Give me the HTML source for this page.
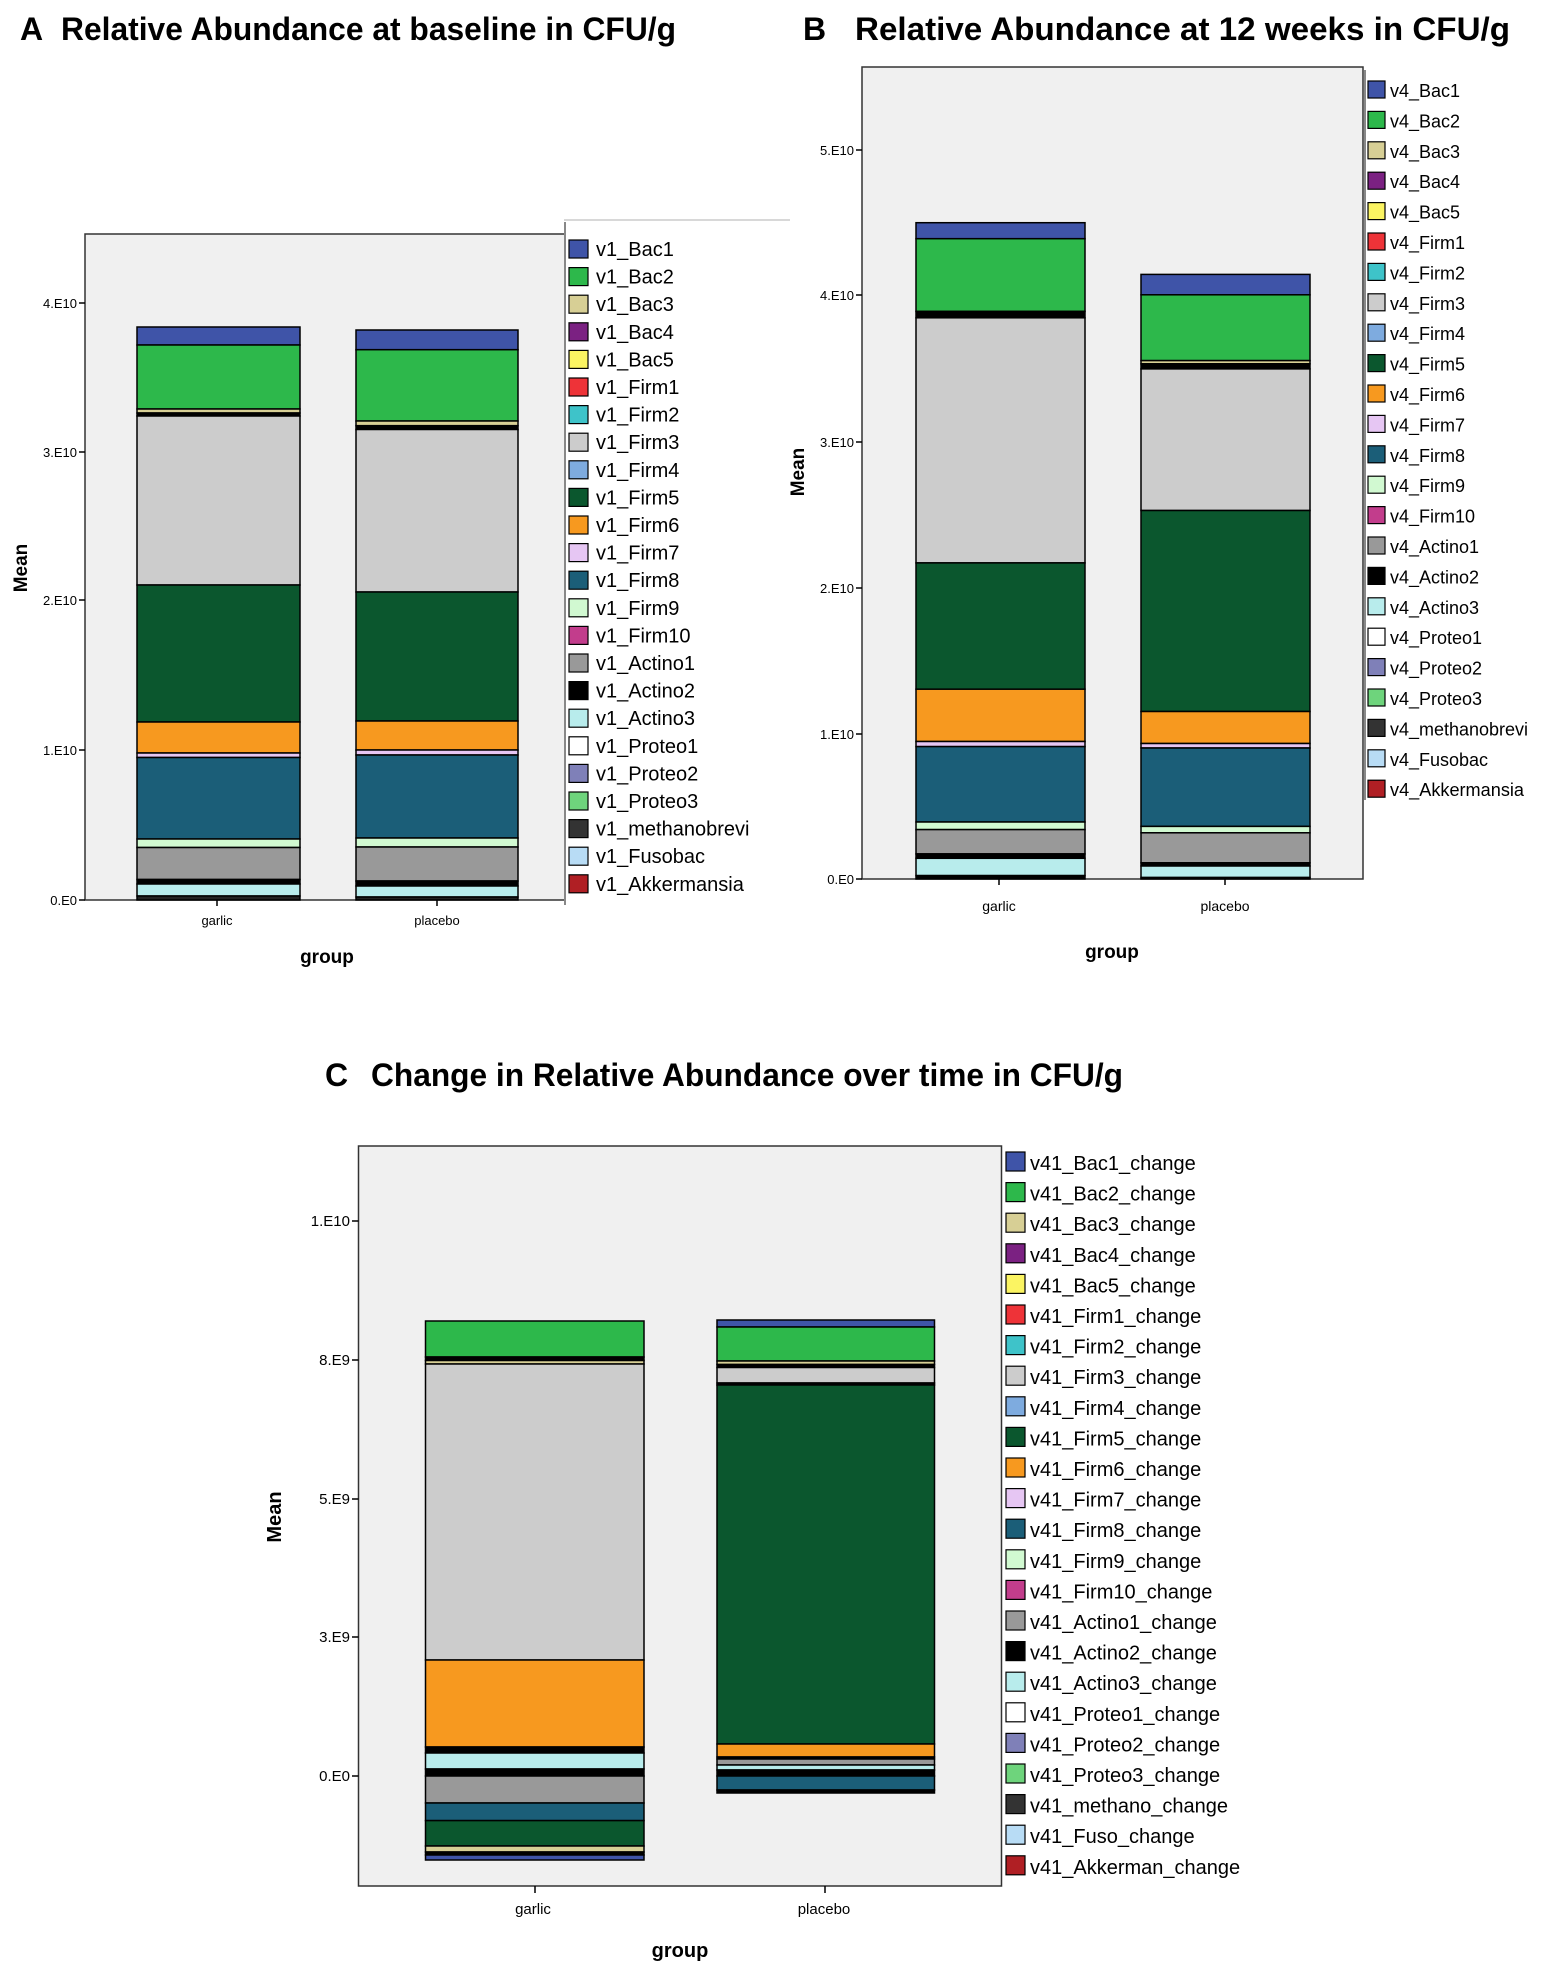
<!DOCTYPE html>
<html><head><meta charset="utf-8"><style>
html,body{margin:0;padding:0;background:#fff}
svg{display:block}
text{font-family:"Liberation Sans",Arial,sans-serif}
</style></head><body>
<svg width="1547" height="1975" viewBox="0 0 1547 1975" xmlns="http://www.w3.org/2000/svg">
<!-- Titles -->
<text x="20" y="40" font-size="32" font-weight="bold">A</text>
<text x="61" y="40" font-size="32" font-weight="bold" textLength="615" lengthAdjust="spacingAndGlyphs">Relative Abundance at baseline in CFU/g</text>
<text x="803" y="40" font-size="32" font-weight="bold">B</text>
<text x="855" y="40" font-size="32" font-weight="bold" textLength="655" lengthAdjust="spacingAndGlyphs">Relative Abundance at 12 weeks in CFU/g</text>
<text x="325" y="1086" font-size="32" font-weight="bold">C</text>
<text x="371" y="1086" font-size="32" font-weight="bold" textLength="752" lengthAdjust="spacingAndGlyphs">Change in Relative Abundance over time in CFU/g</text>

<!-- Panel A -->
<line x1="564" y1="220" x2="790" y2="220" stroke="#ccc" stroke-width="1.5"/>
<rect x="85" y="234" width="480" height="666" fill="#f0f0f0" stroke="#333" stroke-width="1.5"/>
<line x1="565" y1="222" x2="565" y2="905" stroke="#888" stroke-width="2"/>
<g stroke="#000" stroke-width="1.5">
<line x1="79" y1="303" x2="85" y2="303"/><line x1="79" y1="452" x2="85" y2="452"/><line x1="79" y1="600" x2="85" y2="600"/><line x1="79" y1="750" x2="85" y2="750"/><line x1="79" y1="900" x2="85" y2="900"/>
</g>
<g font-size="13" text-anchor="end">
<text x="77" y="308">4.E10</text><text x="77" y="457">3.E10</text><text x="77" y="605">2.E10</text><text x="77" y="755">1.E10</text><text x="77" y="905">0.E0</text>
</g>
<g stroke="#000" stroke-width="1.5">
<rect x="137" y="327" width="163" height="18" fill="#3f54a8"/>
<rect x="137" y="345" width="163" height="64" fill="#2db84b"/>
<rect x="137" y="409" width="163" height="4" fill="#d7cf95"/>
<rect x="137" y="413" width="163" height="3" fill="#000"/>
<rect x="137" y="416" width="163" height="169" fill="#cccccc"/>
<rect x="137" y="585" width="163" height="137" fill="#0b572e"/>
<rect x="137" y="722" width="163" height="31" fill="#f7991f"/>
<rect x="137" y="753" width="163" height="4.5" fill="#e6c6f3"/>
<rect x="137" y="757.5" width="163" height="81.5" fill="#1b5e78"/>
<rect x="137" y="839" width="163" height="8.5" fill="#d1f9d1"/>
<rect x="137" y="847.5" width="163" height="32" fill="#999999"/>
<rect x="137" y="879.5" width="163" height="4.5" fill="#000"/>
<rect x="137" y="884" width="163" height="12" fill="#b8ecec"/>
<rect x="137" y="896" width="163" height="4" fill="#222"/>

<rect x="356" y="330" width="162" height="19.7" fill="#3f54a8"/>
<rect x="356" y="349.7" width="162" height="71.3" fill="#2db84b"/>
<rect x="356" y="421" width="162" height="4.7" fill="#d7cf95"/>
<rect x="356" y="425.7" width="162" height="3.8" fill="#000"/>
<rect x="356" y="429.5" width="162" height="162.5" fill="#cccccc"/>
<rect x="356" y="592" width="162" height="129" fill="#0b572e"/>
<rect x="356" y="721" width="162" height="29" fill="#f7991f"/>
<rect x="356" y="750" width="162" height="5" fill="#e6c6f3"/>
<rect x="356" y="755" width="162" height="83" fill="#1b5e78"/>
<rect x="356" y="838" width="162" height="9" fill="#d1f9d1"/>
<rect x="356" y="847" width="162" height="34" fill="#999999"/>
<rect x="356" y="881" width="162" height="5" fill="#000"/>
<rect x="356" y="886" width="162" height="11" fill="#b8ecec"/>
<rect x="356" y="897" width="162" height="3" fill="#222"/>
</g>
<g stroke="#000" stroke-width="1.5"><line x1="217" y1="900" x2="217" y2="906"/><line x1="437" y1="900" x2="437" y2="906"/></g>
<text x="217" y="925" font-size="13" text-anchor="middle">garlic</text>
<text x="437" y="925" font-size="13" text-anchor="middle">placebo</text>
<text x="327" y="963" font-size="19" font-weight="bold" text-anchor="middle">group</text>
<text transform="translate(27,568) rotate(-90)" font-size="19" font-weight="bold" text-anchor="middle">Mean</text>

<!-- Legend A -->
<g font-size="20" stroke-width="1.2">
<g transform="translate(569,240)">
<g transform="translate(0,0)"><rect width="19" height="18" fill="#3f54a8" stroke="#000"/><text x="27" y="16">v1_Bac1</text></g>
<g transform="translate(0,27.6)"><rect width="19" height="18" fill="#2db84b" stroke="#000"/><text x="27" y="16">v1_Bac2</text></g>
<g transform="translate(0,55.2)"><rect width="19" height="18" fill="#d7cf95" stroke="#000"/><text x="27" y="16">v1_Bac3</text></g>
<g transform="translate(0,82.8)"><rect width="19" height="18" fill="#7b2182" stroke="#000"/><text x="27" y="16">v1_Bac4</text></g>
<g transform="translate(0,110.4)"><rect width="19" height="18" fill="#fbf462" stroke="#000"/><text x="27" y="16">v1_Bac5</text></g>
<g transform="translate(0,138)"><rect width="19" height="18" fill="#ee3338" stroke="#000"/><text x="27" y="16">v1_Firm1</text></g>
<g transform="translate(0,165.6)"><rect width="19" height="18" fill="#3ec3c9" stroke="#000"/><text x="27" y="16">v1_Firm2</text></g>
<g transform="translate(0,193.2)"><rect width="19" height="18" fill="#cccccc" stroke="#000"/><text x="27" y="16">v1_Firm3</text></g>
<g transform="translate(0,220.8)"><rect width="19" height="18" fill="#7eabdf" stroke="#000"/><text x="27" y="16">v1_Firm4</text></g>
<g transform="translate(0,248.4)"><rect width="19" height="18" fill="#0b572e" stroke="#000"/><text x="27" y="16">v1_Firm5</text></g>
<g transform="translate(0,276)"><rect width="19" height="18" fill="#f7991f" stroke="#000"/><text x="27" y="16">v1_Firm6</text></g>
<g transform="translate(0,303.6)"><rect width="19" height="18" fill="#e6c6f3" stroke="#000"/><text x="27" y="16">v1_Firm7</text></g>
<g transform="translate(0,331.2)"><rect width="19" height="18" fill="#1b5e78" stroke="#000"/><text x="27" y="16">v1_Firm8</text></g>
<g transform="translate(0,358.8)"><rect width="19" height="18" fill="#d1f9d1" stroke="#000"/><text x="27" y="16">v1_Firm9</text></g>
<g transform="translate(0,386.4)"><rect width="19" height="18" fill="#c23d8c" stroke="#000"/><text x="27" y="16">v1_Firm10</text></g>
<g transform="translate(0,414)"><rect width="19" height="18" fill="#999999" stroke="#000"/><text x="27" y="16">v1_Actino1</text></g>
<g transform="translate(0,441.6)"><rect width="19" height="18" fill="#000" stroke="#000"/><text x="27" y="16">v1_Actino2</text></g>
<g transform="translate(0,469.2)"><rect width="19" height="18" fill="#b8ecec" stroke="#000"/><text x="27" y="16">v1_Actino3</text></g>
<g transform="translate(0,496.8)"><rect width="19" height="18" fill="#fff" stroke="#000"/><text x="27" y="16">v1_Proteo1</text></g>
<g transform="translate(0,524.4)"><rect width="19" height="18" fill="#7f80b8" stroke="#000"/><text x="27" y="16">v1_Proteo2</text></g>
<g transform="translate(0,552)"><rect width="19" height="18" fill="#6ed47c" stroke="#000"/><text x="27" y="16">v1_Proteo3</text></g>
<g transform="translate(0,579.6)"><rect width="19" height="18" fill="#333" stroke="#000"/><text x="27" y="16">v1_methanobrevi</text></g>
<g transform="translate(0,607.2)"><rect width="19" height="18" fill="#b8dcf5" stroke="#000"/><text x="27" y="16">v1_Fusobac</text></g>
<g transform="translate(0,634.8)"><rect width="19" height="18" fill="#b01f24" stroke="#000"/><text x="27" y="16">v1_Akkermansia</text></g>
</g></g>

<!-- Panel B -->
<rect x="862" y="67" width="501" height="812" fill="#f0f0f0" stroke="#333" stroke-width="1.5"/>
<line x1="1365" y1="70" x2="1365" y2="800" stroke="#888" stroke-width="2"/>
<g stroke="#000" stroke-width="1.5">
<line x1="856" y1="150" x2="862" y2="150"/><line x1="856" y1="295" x2="862" y2="295"/><line x1="856" y1="442" x2="862" y2="442"/><line x1="856" y1="588" x2="862" y2="588"/><line x1="856" y1="734" x2="862" y2="734"/><line x1="856" y1="879" x2="862" y2="879"/>
</g>
<g font-size="13" text-anchor="end">
<text x="854" y="155">5.E10</text><text x="854" y="300">4.E10</text><text x="854" y="447">3.E10</text><text x="854" y="593">2.E10</text><text x="854" y="739">1.E10</text><text x="854" y="884">0.E0</text>
</g>
<g stroke="#000" stroke-width="1.5">
<rect x="916" y="222.7" width="169" height="16" fill="#3f54a8"/>
<rect x="916" y="238.7" width="169" height="72.7" fill="#2db84b"/>
<rect x="916" y="311.4" width="169" height="6.4" fill="#000"/>
<rect x="916" y="317.8" width="169" height="245.1" fill="#cccccc"/>
<rect x="916" y="562.9" width="169" height="126.3" fill="#0b572e"/>
<rect x="916" y="689.2" width="169" height="52.3" fill="#f7991f"/>
<rect x="916" y="741.5" width="169" height="5.1" fill="#e6c6f3"/>
<rect x="916" y="746.6" width="169" height="75.4" fill="#1b5e78"/>
<rect x="916" y="822" width="169" height="7.6" fill="#d1f9d1"/>
<rect x="916" y="829.6" width="169" height="24.3" fill="#999999"/>
<rect x="916" y="853.9" width="169" height="4.4" fill="#000"/>
<rect x="916" y="858.3" width="169" height="17.3" fill="#b8ecec"/>
<rect x="916" y="875.6" width="169" height="3.4" fill="#000"/>

<rect x="1141" y="274.4" width="169" height="20.4" fill="#3f54a8"/>
<rect x="1141" y="294.8" width="169" height="65.8" fill="#2db84b"/>
<rect x="1141" y="360.6" width="169" height="3.2" fill="#d7cf95"/>
<rect x="1141" y="363.8" width="169" height="5.1" fill="#000"/>
<rect x="1141" y="368.9" width="169" height="141.6" fill="#cccccc"/>
<rect x="1141" y="510.5" width="169" height="201" fill="#0b572e"/>
<rect x="1141" y="711.5" width="169" height="32" fill="#f7991f"/>
<rect x="1141" y="743.5" width="169" height="4.5" fill="#e6c6f3"/>
<rect x="1141" y="748" width="169" height="78.4" fill="#1b5e78"/>
<rect x="1141" y="826.4" width="169" height="6.4" fill="#d1f9d1"/>
<rect x="1141" y="832.8" width="169" height="30" fill="#999999"/>
<rect x="1141" y="862.8" width="169" height="3.2" fill="#000"/>
<rect x="1141" y="866" width="169" height="11.5" fill="#b8ecec"/>
<rect x="1141" y="877.5" width="169" height="1.5" fill="#000"/>
</g>
<g stroke="#000" stroke-width="1.5"><line x1="999" y1="879" x2="999" y2="885"/><line x1="1225" y1="879" x2="1225" y2="885"/></g>
<text x="999" y="911" font-size="14" text-anchor="middle">garlic</text>
<text x="1225" y="911" font-size="14" text-anchor="middle">placebo</text>
<text x="1112" y="958" font-size="19" font-weight="bold" text-anchor="middle">group</text>
<text transform="translate(804,472) rotate(-90)" font-size="19" font-weight="bold" text-anchor="middle">Mean</text>

<!-- Legend B -->
<g font-size="18" stroke-width="1.2">
<g transform="translate(1368,81)">
<g transform="translate(0,0)"><rect width="17" height="17" fill="#3f54a8" stroke="#000"/><text x="22" y="16">v4_Bac1</text></g>
<g transform="translate(0,30.4)"><rect width="17" height="17" fill="#2db84b" stroke="#000"/><text x="22" y="16">v4_Bac2</text></g>
<g transform="translate(0,60.8)"><rect width="17" height="17" fill="#d7cf95" stroke="#000"/><text x="22" y="16">v4_Bac3</text></g>
<g transform="translate(0,91.2)"><rect width="17" height="17" fill="#7b2182" stroke="#000"/><text x="22" y="16">v4_Bac4</text></g>
<g transform="translate(0,121.6)"><rect width="17" height="17" fill="#fbf462" stroke="#000"/><text x="22" y="16">v4_Bac5</text></g>
<g transform="translate(0,152)"><rect width="17" height="17" fill="#ee3338" stroke="#000"/><text x="22" y="16">v4_Firm1</text></g>
<g transform="translate(0,182.4)"><rect width="17" height="17" fill="#3ec3c9" stroke="#000"/><text x="22" y="16">v4_Firm2</text></g>
<g transform="translate(0,212.8)"><rect width="17" height="17" fill="#cccccc" stroke="#000"/><text x="22" y="16">v4_Firm3</text></g>
<g transform="translate(0,243.2)"><rect width="17" height="17" fill="#7eabdf" stroke="#000"/><text x="22" y="16">v4_Firm4</text></g>
<g transform="translate(0,273.6)"><rect width="17" height="17" fill="#0b572e" stroke="#000"/><text x="22" y="16">v4_Firm5</text></g>
<g transform="translate(0,304)"><rect width="17" height="17" fill="#f7991f" stroke="#000"/><text x="22" y="16">v4_Firm6</text></g>
<g transform="translate(0,334.4)"><rect width="17" height="17" fill="#e6c6f3" stroke="#000"/><text x="22" y="16">v4_Firm7</text></g>
<g transform="translate(0,364.8)"><rect width="17" height="17" fill="#1b5e78" stroke="#000"/><text x="22" y="16">v4_Firm8</text></g>
<g transform="translate(0,395.2)"><rect width="17" height="17" fill="#d1f9d1" stroke="#000"/><text x="22" y="16">v4_Firm9</text></g>
<g transform="translate(0,425.6)"><rect width="17" height="17" fill="#c23d8c" stroke="#000"/><text x="22" y="16">v4_Firm10</text></g>
<g transform="translate(0,456)"><rect width="17" height="17" fill="#999999" stroke="#000"/><text x="22" y="16">v4_Actino1</text></g>
<g transform="translate(0,486.4)"><rect width="17" height="17" fill="#000" stroke="#000"/><text x="22" y="16">v4_Actino2</text></g>
<g transform="translate(0,516.8)"><rect width="17" height="17" fill="#b8ecec" stroke="#000"/><text x="22" y="16">v4_Actino3</text></g>
<g transform="translate(0,547.2)"><rect width="17" height="17" fill="#fff" stroke="#000"/><text x="22" y="16">v4_Proteo1</text></g>
<g transform="translate(0,577.6)"><rect width="17" height="17" fill="#7f80b8" stroke="#000"/><text x="22" y="16">v4_Proteo2</text></g>
<g transform="translate(0,608)"><rect width="17" height="17" fill="#6ed47c" stroke="#000"/><text x="22" y="16">v4_Proteo3</text></g>
<g transform="translate(0,638.4)"><rect width="17" height="17" fill="#333" stroke="#000"/><text x="22" y="16" textLength="138" lengthAdjust="spacingAndGlyphs">v4_methanobrevi</text></g>
<g transform="translate(0,668.8)"><rect width="17" height="17" fill="#b8dcf5" stroke="#000"/><text x="22" y="16">v4_Fusobac</text></g>
<g transform="translate(0,699.2)"><rect width="17" height="17" fill="#b01f24" stroke="#000"/><text x="22" y="16" textLength="134" lengthAdjust="spacingAndGlyphs">v4_Akkermansia</text></g>
</g></g>

<!-- Panel C -->
<rect x="358.5" y="1146" width="643" height="740" fill="#f0f0f0" stroke="#333" stroke-width="1.5"/>
<g stroke="#000" stroke-width="1.5">
<line x1="352" y1="1221" x2="358.5" y2="1221"/><line x1="352" y1="1360" x2="358.5" y2="1360"/><line x1="352" y1="1499" x2="358.5" y2="1499"/><line x1="352" y1="1637" x2="358.5" y2="1637"/><line x1="352" y1="1776" x2="358.5" y2="1776"/>
</g>
<g font-size="15" text-anchor="end">
<text x="350" y="1226">1.E10</text><text x="350" y="1365">8.E9</text><text x="350" y="1504">5.E9</text><text x="350" y="1642">3.E9</text><text x="350" y="1781">0.E0</text>
</g>
<g stroke="#000" stroke-width="1.5">
<rect x="425.5" y="1321" width="218.5" height="36" fill="#2db84b"/>
<rect x="425.5" y="1357" width="218.5" height="3.5" fill="#000"/>
<rect x="425.5" y="1360.5" width="218.5" height="3.5" fill="#d7cf95"/>
<rect x="425.5" y="1364" width="218.5" height="296" fill="#cccccc"/>
<rect x="425.5" y="1660" width="218.5" height="87" fill="#f7991f"/>
<rect x="425.5" y="1747" width="218.5" height="6" fill="#000"/>
<rect x="425.5" y="1753" width="218.5" height="16" fill="#b8ecec"/>
<rect x="425.5" y="1769" width="218.5" height="7" fill="#000"/>
<rect x="425.5" y="1776" width="218.5" height="27" fill="#999999"/>
<rect x="425.5" y="1803" width="218.5" height="17.6" fill="#1b5e78"/>
<rect x="425.5" y="1820.6" width="218.5" height="25.4" fill="#0b572e"/>
<rect x="425.5" y="1846" width="218.5" height="6" fill="#d7cf95"/>
<rect x="425.5" y="1852" width="218.5" height="3" fill="#000"/>
<rect x="425.5" y="1855" width="218.5" height="5" fill="#3f54a8"/>

<rect x="717" y="1320" width="217.5" height="7" fill="#3f54a8"/>
<rect x="717" y="1327" width="217.5" height="34" fill="#2db84b"/>
<rect x="717" y="1361" width="217.5" height="3.5" fill="#d7cf95"/>
<rect x="717" y="1364.5" width="217.5" height="3" fill="#000"/>
<rect x="717" y="1367.5" width="217.5" height="15.5" fill="#cccccc"/>
<rect x="717" y="1383" width="217.5" height="2" fill="#000"/>
<rect x="717" y="1385" width="217.5" height="359" fill="#0b572e"/>
<rect x="717" y="1744" width="217.5" height="13" fill="#f7991f"/>
<rect x="717" y="1757" width="217.5" height="2" fill="#000"/>
<rect x="717" y="1759" width="217.5" height="6" fill="#999999"/>
<rect x="717" y="1765" width="217.5" height="5" fill="#b8ecec"/>
<rect x="717" y="1770" width="217.5" height="6" fill="#000"/>
<rect x="717" y="1776" width="217.5" height="14" fill="#1b5e78"/>
<rect x="717" y="1790" width="217.5" height="3" fill="#000"/>
</g>
<g stroke="#000" stroke-width="1.5"><line x1="535" y1="1886" x2="535" y2="1893"/><line x1="825" y1="1886" x2="825" y2="1893"/></g>
<text x="533" y="1914" font-size="15" text-anchor="middle">garlic</text>
<text x="824" y="1914" font-size="15" text-anchor="middle">placebo</text>
<text x="680" y="1957" font-size="20" font-weight="bold" text-anchor="middle">group</text>
<text transform="translate(281,1517) rotate(-90)" font-size="20" font-weight="bold" text-anchor="middle">Mean</text>

<!-- Legend C -->
<g font-size="20" stroke-width="1.2">
<g transform="translate(1006,1152)">
<g transform="translate(0,0)"><rect width="19" height="19" fill="#3f54a8" stroke="#000"/><text x="24" y="18">v41_Bac1_change</text></g>
<g transform="translate(0,30.6)"><rect width="19" height="19" fill="#2db84b" stroke="#000"/><text x="24" y="18">v41_Bac2_change</text></g>
<g transform="translate(0,61.2)"><rect width="19" height="19" fill="#d7cf95" stroke="#000"/><text x="24" y="18">v41_Bac3_change</text></g>
<g transform="translate(0,91.8)"><rect width="19" height="19" fill="#7b2182" stroke="#000"/><text x="24" y="18">v41_Bac4_change</text></g>
<g transform="translate(0,122.4)"><rect width="19" height="19" fill="#fbf462" stroke="#000"/><text x="24" y="18">v41_Bac5_change</text></g>
<g transform="translate(0,153)"><rect width="19" height="19" fill="#ee3338" stroke="#000"/><text x="24" y="18">v41_Firm1_change</text></g>
<g transform="translate(0,183.6)"><rect width="19" height="19" fill="#3ec3c9" stroke="#000"/><text x="24" y="18">v41_Firm2_change</text></g>
<g transform="translate(0,214.2)"><rect width="19" height="19" fill="#cccccc" stroke="#000"/><text x="24" y="18">v41_Firm3_change</text></g>
<g transform="translate(0,244.8)"><rect width="19" height="19" fill="#7eabdf" stroke="#000"/><text x="24" y="18">v41_Firm4_change</text></g>
<g transform="translate(0,275.4)"><rect width="19" height="19" fill="#0b572e" stroke="#000"/><text x="24" y="18">v41_Firm5_change</text></g>
<g transform="translate(0,306)"><rect width="19" height="19" fill="#f7991f" stroke="#000"/><text x="24" y="18">v41_Firm6_change</text></g>
<g transform="translate(0,336.6)"><rect width="19" height="19" fill="#e6c6f3" stroke="#000"/><text x="24" y="18">v41_Firm7_change</text></g>
<g transform="translate(0,367.2)"><rect width="19" height="19" fill="#1b5e78" stroke="#000"/><text x="24" y="18">v41_Firm8_change</text></g>
<g transform="translate(0,397.8)"><rect width="19" height="19" fill="#d1f9d1" stroke="#000"/><text x="24" y="18">v41_Firm9_change</text></g>
<g transform="translate(0,428.4)"><rect width="19" height="19" fill="#c23d8c" stroke="#000"/><text x="24" y="18">v41_Firm10_change</text></g>
<g transform="translate(0,459)"><rect width="19" height="19" fill="#999999" stroke="#000"/><text x="24" y="18">v41_Actino1_change</text></g>
<g transform="translate(0,489.6)"><rect width="19" height="19" fill="#000" stroke="#000"/><text x="24" y="18">v41_Actino2_change</text></g>
<g transform="translate(0,520.2)"><rect width="19" height="19" fill="#b8ecec" stroke="#000"/><text x="24" y="18">v41_Actino3_change</text></g>
<g transform="translate(0,550.8)"><rect width="19" height="19" fill="#fff" stroke="#000"/><text x="24" y="18">v41_Proteo1_change</text></g>
<g transform="translate(0,581.4)"><rect width="19" height="19" fill="#7f80b8" stroke="#000"/><text x="24" y="18">v41_Proteo2_change</text></g>
<g transform="translate(0,612)"><rect width="19" height="19" fill="#6ed47c" stroke="#000"/><text x="24" y="18">v41_Proteo3_change</text></g>
<g transform="translate(0,642.6)"><rect width="19" height="19" fill="#333" stroke="#000"/><text x="24" y="18">v41_methano_change</text></g>
<g transform="translate(0,673.2)"><rect width="19" height="19" fill="#b8dcf5" stroke="#000"/><text x="24" y="18">v41_Fuso_change</text></g>
<g transform="translate(0,703.8)"><rect width="19" height="19" fill="#b01f24" stroke="#000"/><text x="24" y="18">v41_Akkerman_change</text></g>
</g></g>
</svg>
</body></html>
